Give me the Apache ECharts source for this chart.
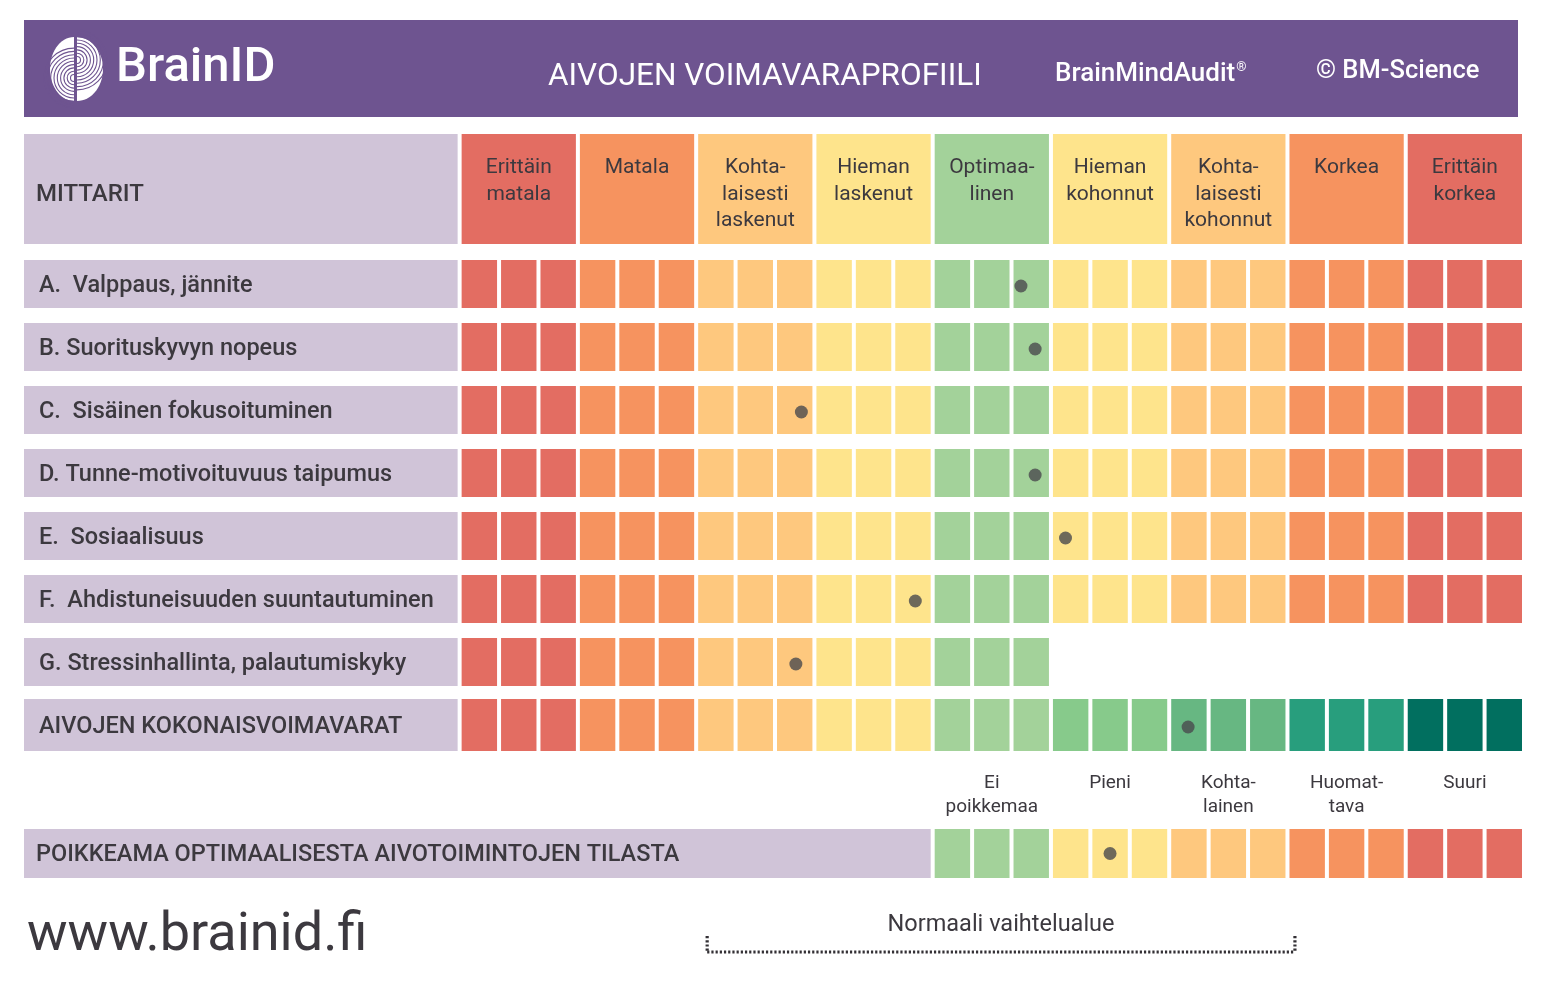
<!DOCTYPE html>
<html>
<head>
<meta charset="utf-8">
<script src="https://cdn.jsdelivr.net/npm/echarts@6/dist/echarts.min.js"></script>
<style>
html,body{margin:0;padding:0;background:#ffffff;}
#c{width:1544px;height:985px;}
</style>
</head>
<body>
<div id="c"></div>
<script>
// ---------------- DATA ----------------
const headerTitle = 'AIVOJEN VOIMAVARAPROFIILI';
const brandName = 'BrainID';
const productName = 'BrainMindAudit';
const copyrightText = '© BM-Science';
const websiteText = 'www.brainid.fi';
const columnHeader = 'MITTARIT';

const bandLabels = ['Erittäin\nmatala', 'Matala', 'Kohta-\nlaisesti\nlaskenut', 'Hieman\nlaskenut',
  'Optimaa-\nlinen', 'Hieman\nkohonnut', 'Kohta-\nlaisesti\nkohonnut', 'Korkea', 'Erittäin\nkorkea'];
const columnsPerBand = 3;

const measures = ['A.  Valppaus, jännite', 'B. Suorituskyvyn nopeus', 'C.  Sisäinen fokusoituminen',
  'D. Tunne-motivoituvuus taipumus', 'E.  Sosiaalisuus', 'F.  Ahdistuneisuuden suuntautuminen',
  'G. Stressinhallinta, palautumiskyky', 'AIVOJEN KOKONAISVOIMAVARAT'];
const columnsPerMeasure = [27, 27, 27, 27, 27, 27, 15, 27];
const scores = [14.29, 14.65, 8.72, 14.65, 15.42, 11.61, 8.58, 18.53];

const deviationTitle = 'POIKKEAMA OPTIMAALISESTA AIVOTOIMINTOJEN TILASTA';
const deviationLabels = ['Ei\npoikkemaa', 'Pieni', 'Kohta-\nlainen', 'Huomat-\ntava', 'Suuri'];
const deviationFirstColumn = 12;
const deviationScore = 16.55;

const normalRangeLabel = 'Normaali vaihtelualue';
const normalRange = [6.33, 21.24];

// ---------------- STYLE ----------------
const FONT = 'Roboto, "Noto Sans", "DejaVu Sans", sans-serif';
const TEXT = '#3c393f';
const pal = {
  red: '#E36D62', orange: '#F6935F', lorange: '#FEC87E', yellow: '#FEE48C', lgreen: '#A3D29A',
  green2: '#87CA8B', green3: '#67B782', teal: '#289E7D', dkteal: '#016F5F',
  label: '#D0C4D8', header: '#6E5490', dot: '#4A4A4E'
};
const standardColors = [pal.red, pal.orange, pal.lorange, pal.yellow, pal.lgreen, pal.yellow, pal.lorange, pal.orange, pal.red];
const totalColors = [pal.red, pal.orange, pal.lorange, pal.yellow, pal.lgreen, pal.green2, pal.green3, pal.teal, pal.dkteal];
const deviationColors = [pal.lgreen, pal.yellow, pal.lorange, pal.orange, pal.red];
const GAP = 4;
const LABEL_MIN = -11;
const TOTAL_COLS = bandLabels.length * columnsPerBand;

// ---------------- LOGO HELPERS ----------------
function halfEllipse(cx, cy, rx, ry, dir) {
  const pts = [];
  for (let t = -90; t <= 90; t += 6) {
    const r = t * Math.PI / 180;
    pts.push([cx + dir * rx * Math.cos(r), cy + ry * Math.sin(r)]);
  }
  return pts;
}
function lobeArcs(cx, cy, start, end) {
  const out = [];
  for (let r = 3.5; r < 33; r += 3.3) {
    out.push({type: 'arc', shape: {cx: cx, cy: cy, r: r, startAngle: start, endAngle: end},
      style: {stroke: pal.header, lineWidth: 1.1, fill: null}});
  }
  return out;
}

// ---------------- BUILD ----------------
const chart = echarts.init(document.getElementById('c'), null, {renderer: 'canvas'});

const cellData = [];
measures.forEach((m, k) => { for (let i = 0; i < columnsPerMeasure[k]; i++) cellData.push([i, k]); });
const devCells = [];
for (let i = deviationFirstColumn; i < TOTAL_COLS; i++) devCells.push([i, 0]);

function xAxisFor(idx) {
  return {type: 'value', gridIndex: idx, min: LABEL_MIN, max: TOTAL_COLS, show: false};
}
function yAxisFor(idx, data, margin, size, weight, padTop) {
  return {
    type: 'category', gridIndex: idx, data: data, inverse: true, z: 10,
    axisLine: {show: false}, axisTick: {show: false}, splitLine: {show: false},
    axisLabel: {inside: true, margin: margin, interval: 0, align: 'left',
      formatter: '{t|{value}}',
      rich: {t: {color: TEXT, fontSize: size, fontFamily: FONT, fontWeight: weight, padding: [padTop, 0, 0, 0]}}}
  };
}

function labelBg(endCol, hFn) {
  return function (params, api) {
    const k = api.value(0);
    const a = api.coord([LABEL_MIN, k]);
    const b = api.coord([endCol, k]);
    const h = hFn(k, api);
    return {type: 'rect', shape: {x: a[0], y: a[1] - h / 2, width: b[0] - a[0], height: h},
      style: {fill: pal.label}};
  };
}

const option = {
  animation: false,
  backgroundColor: '#ffffff',
  grid: [
    {left: 24, width: 1498, top: 134, height: 110},
    {left: 24, width: 1498, top: 252.5, height: 504},
    {left: 24, width: 1498, top: 829, height: 49}
  ],
  xAxis: [xAxisFor(0), xAxisFor(1), xAxisFor(2)],
  yAxis: [
    yAxisFor(0, [columnHeader], 12, 24, 500, 12),
    yAxisFor(1, measures, 15, 23.5, 500, 4),
    yAxisFor(2, [deviationTitle], 12, 23.5, 500, 4)
  ],
  graphic: [
    {type: 'rect', shape: {x: 24, y: 20, width: 1494, height: 97}, style: {fill: pal.header}, z: 0},
    {type: 'group', z: 1, children: [
      {type: 'polygon', shape: {points: halfEllipse(74, 69, 24, 32, -1)}, style: {fill: '#ffffff'}},
      {type: 'polygon', shape: {points: halfEllipse(77, 69, 26, 32, 1)}, style: {fill: '#ffffff'}}
    ].concat(lobeArcs(74, 78, Math.PI * 0.5, Math.PI * 1.5))
     .concat(lobeArcs(77, 60, -Math.PI * 0.5, Math.PI * 0.5))},
    {type: 'text', z: 2, style: {text: brandName, x: 116, y: 69, fill: '#ffffff', font: '500 49px ' + FONT, textVerticalAlign: 'middle'}},
    {type: 'text', z: 2, style: {text: headerTitle, x: 548, y: 77, fill: '#ffffff', font: '31.5px ' + FONT, textVerticalAlign: 'middle'}},
    {type: 'text', z: 2, style: {
      text: '{a|' + productName + '}{r|®}', x: 1055, y: 74, textVerticalAlign: 'middle',
      rich: {a: {fill: '#ffffff', fontSize: 26, fontWeight: 500, fontFamily: FONT},
             r: {fill: '#ffffff', fontSize: 13, fontFamily: FONT, verticalAlign: 'top', padding: [0, 0, 8, 1]}}
    }},
    {type: 'text', z: 2, style: {text: copyrightText, x: 1316, y: 72, fill: '#ffffff', font: '500 25.5px ' + FONT, textVerticalAlign: 'middle'}},
    {type: 'text', z: 2, style: {text: websiteText, x: 27, y: 936, fill: TEXT, font: '54px ' + FONT, textVerticalAlign: 'middle'}}
  ],
  series: [
    {type: 'custom', xAxisIndex: 0, yAxisIndex: 0, z: 1, data: [[0]],
      renderItem: labelBg(0, (k, api) => api.size([0, 1])[1])},
    {type: 'custom', xAxisIndex: 0, yAxisIndex: 0, z: 2,
      data: bandLabels.map((l, j) => [j * columnsPerBand, 0, j]),
      renderItem: function (params, api) {
        const c0 = api.value(0), j = api.value(2);
        const a = api.coord([c0, 0]);
        const b = api.coord([c0 + columnsPerBand, 0]);
        const h = api.size([0, 1])[1];
        const top = a[1] - h / 2;
        return {type: 'group', children: [
          {type: 'rect', shape: {x: a[0] + GAP, y: top, width: b[0] - a[0] - GAP, height: h},
            style: {fill: standardColors[j]}},
          {type: 'text', style: {text: bandLabels[j], x: (a[0] + GAP + b[0]) / 2, y: top + 20.5,
            textAlign: 'center', textVerticalAlign: 'top', fill: TEXT,
            font: '21px ' + FONT, lineHeight: 26.5}}
        ]};
      }},
    {type: 'custom', xAxisIndex: 1, yAxisIndex: 1, z: 1,
      data: measures.map((m, k) => [k]),
      renderItem: labelBg(0, (k) => (k === measures.length - 1 ? 52 : 48))},
    {type: 'custom', xAxisIndex: 1, yAxisIndex: 1, z: 2, data: cellData,
      renderItem: function (params, api) {
        const i = api.value(0), k = api.value(1);
        const a = api.coord([i, k]);
        const b = api.coord([i + 1, k]);
        const isTotal = k === measures.length - 1;
        const h = isTotal ? 52 : 48;
        const colors = isTotal ? totalColors : standardColors;
        return {type: 'rect', shape: {x: a[0] + GAP, y: a[1] - h / 2, width: b[0] - a[0] - GAP, height: h},
          style: {fill: colors[Math.floor(i / columnsPerBand)]}};
      }},
    {type: 'scatter', xAxisIndex: 1, yAxisIndex: 1, z: 5, symbol: 'circle', symbolSize: 13,
      symbolOffset: [0, 2],
      itemStyle: {color: pal.dot}, data: scores.map((s, k) => [s, k])},
    {type: 'custom', xAxisIndex: 2, yAxisIndex: 2, z: 1, data: [[0]],
      renderItem: labelBg(deviationFirstColumn, (k, api) => api.size([0, 1])[1])},
    {type: 'custom', xAxisIndex: 2, yAxisIndex: 2, z: 2, data: devCells,
      renderItem: function (params, api) {
        const i = api.value(0);
        const a = api.coord([i, 0]);
        const b = api.coord([i + 1, 0]);
        const h = api.size([0, 1])[1];
        return {type: 'rect', shape: {x: a[0] + GAP, y: a[1] - h / 2, width: b[0] - a[0] - GAP, height: h},
          style: {fill: deviationColors[Math.floor((i - deviationFirstColumn) / columnsPerBand)]}};
      }},
    {type: 'custom', xAxisIndex: 2, yAxisIndex: 2, z: 2,
      data: deviationLabels.map((l, j) => [deviationFirstColumn + j * columnsPerBand, 0, j]),
      renderItem: function (params, api) {
        const c0 = api.value(0), j = api.value(2);
        const a = api.coord([c0, 0]);
        const b = api.coord([c0 + columnsPerBand, 0]);
        const h = api.size([0, 1])[1];
        return {type: 'text', style: {text: deviationLabels[j], x: (a[0] + GAP + b[0]) / 2, y: a[1] - h / 2 - 58,
          textAlign: 'center', textVerticalAlign: 'top', fill: TEXT, font: '19px ' + FONT, lineHeight: 24}};
      }},
    {type: 'scatter', xAxisIndex: 2, yAxisIndex: 2, z: 5, symbol: 'circle', symbolSize: 13,
      itemStyle: {color: pal.dot}, data: [[deviationScore, 0]]},
    {type: 'custom', xAxisIndex: 2, yAxisIndex: 2, z: 2, data: [normalRange],
      renderItem: function (params, api) {
        const a = api.coord([api.value(0), 0]);
        const b = api.coord([api.value(1), 0]);
        const y = a[1] + 98.5;
        const ls = {stroke: '#333035', lineWidth: 3.2, lineDash: [2.2, 2]};
        return {type: 'group', children: [
          {type: 'line', shape: {x1: a[0], y1: y, x2: b[0], y2: y}, style: ls},
          {type: 'line', shape: {x1: a[0], y1: y - 16, x2: a[0], y2: y}, style: ls},
          {type: 'line', shape: {x1: b[0], y1: y - 16, x2: b[0], y2: y}, style: ls},
          {type: 'text', style: {text: normalRangeLabel, x: (a[0] + b[0]) / 2, y: y - 27,
            textAlign: 'center', textVerticalAlign: 'middle', fill: TEXT, font: '23.5px ' + FONT}}
        ]};
      }}
  ]
};
chart.setOption(option);
</script>
</body>
</html>
